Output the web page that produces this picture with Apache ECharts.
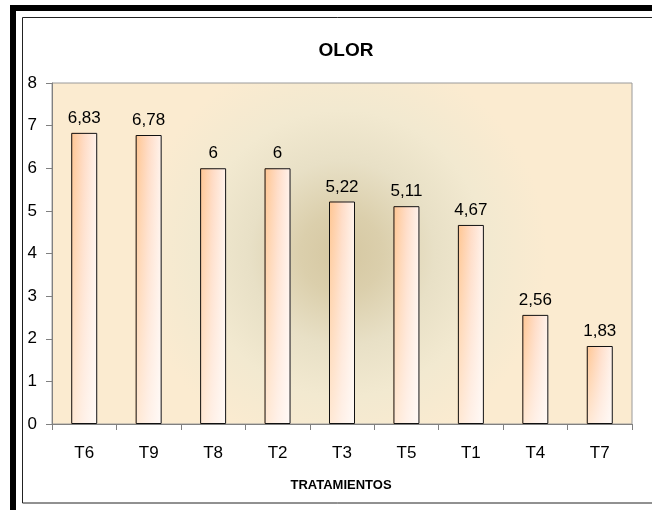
<!DOCTYPE html>
<html>
<head>
<meta charset="utf-8">
<script src="https://cdn.jsdelivr.net/npm/echarts@6/dist/echarts.min.js"></script>
<style>
html,body{margin:0;padding:0;background:#fff;}
#c{width:652px;height:510px;}
</style>
</head>
<body>
<div id="c"></div>
<script>
var categories = ['T6','T9','T8','T2','T3','T5','T1','T4','T7'];
var values = [6.83, 6.78, 6, 6, 5.22, 5.11, 4.67, 2.56, 1.83];
var yTicks = [0,1,2,3,4,5,6,7,8];
var titleText = 'OLOR';
var xName = 'TRATAMIENTOS';

var chart = echarts.init(document.getElementById('c'), null, {renderer:'canvas'});
var font = 'Liberation Sans, Arial, sans-serif';
chart.setOption({
  animation: false,
  backgroundColor: '#ffffff',
  title: {
    text: titleText, left: 341, top: 36, textAlign: 'center',
    textStyle: {fontFamily: font, fontWeight: 'bold', fontSize: 19, color: '#000'}
  },
  graphic: [
    {type:'rect', shape:{x:10,y:5,width:650,height:6}, style:{fill:'#000'}, z:10},
    {type:'rect', shape:{x:10,y:5,width:6,height:510}, style:{fill:'#000'}, z:10},
    {type:'rect', shape:{x:22.5,y:17.5,width:640,height:485.5}, style:{fill:null, stroke:'#222', lineWidth:1}, z:10},
    {type:'text', x:341, y:485, style:{text:xName, fill:'#000', font:'bold 13px Liberation Sans, Arial, sans-serif', align:'center', verticalAlign:'middle'}, z:10}
  ],
  grid: {
    left: 52, top: 83, width: 580, height: 341,
    show: true, borderColor: '#9a9a9a', borderWidth: 1,
    backgroundColor: {
      type: 'radial', x: 0.5, y: 0.5, r: 0.6,
      colorStops: [
        {offset: 0, color: '#d5c7a1'},
        {offset: 0.2, color: '#dbcfac'},
        {offset: 0.45, color: '#e8e0c6'},
        {offset: 0.7, color: '#f2e9d0'},
        {offset: 1, color: '#fbebd0'}
      ]
    }
  },
  xAxis: {
    type: 'category', data: categories,
    axisLine: {lineStyle: {color: '#808080', width: 1}},
    axisTick: {show: true, length: 6, lineStyle: {color: '#808080'}},
    axisLabel: {margin: 21, fontFamily: font, fontSize: 17, color: '#000'}
  },
  yAxis: {
    type: 'value', min: 0, max: 8, interval: 1,
    axisLine: {show: true, lineStyle: {color: '#808080', width: 1}},
    axisTick: {show: true, length: 6, lineStyle: {color: '#808080'}},
    splitLine: {show: false},
    axisLabel: {margin: 15, fontFamily: font, fontSize: 17, color: '#000',
      formatter: function(v){ return yTicks.indexOf(v) >= 0 ? String(v) : ''; }}
  },
  series: [{
    type: 'bar', data: values, barWidth: 26,
    itemStyle: {
      color: {type:'linear', x:0, y:0, x2:1, y2:0, colorStops:[
        {offset:0, color:'#ffc590'}, {offset:0.5, color:'#ffdcc6'}, {offset:1, color:'#fff3ec'}
      ]}
    },
    label: {
      show: true, position: 'top', distance: 6,
      fontFamily: font, fontSize: 17, color: '#000',
      formatter: function(p){ return String(p.value).replace('.', ','); }
    }
  }, {
    type: 'bar', data: values, barWidth: 26, barGap: '-100%',
    itemStyle: {
      borderColor: '#111', borderWidth: 1,
      color: {type:'linear', x:0, y:0, x2:0, y2:1, colorStops:[
        {offset:0, color:'rgba(255,255,255,0)'}, {offset:1, color:'rgba(255,255,255,0.6)'}
      ]}
    },
    label: {show: false}
  }]
});
</script>
</body>
</html>
